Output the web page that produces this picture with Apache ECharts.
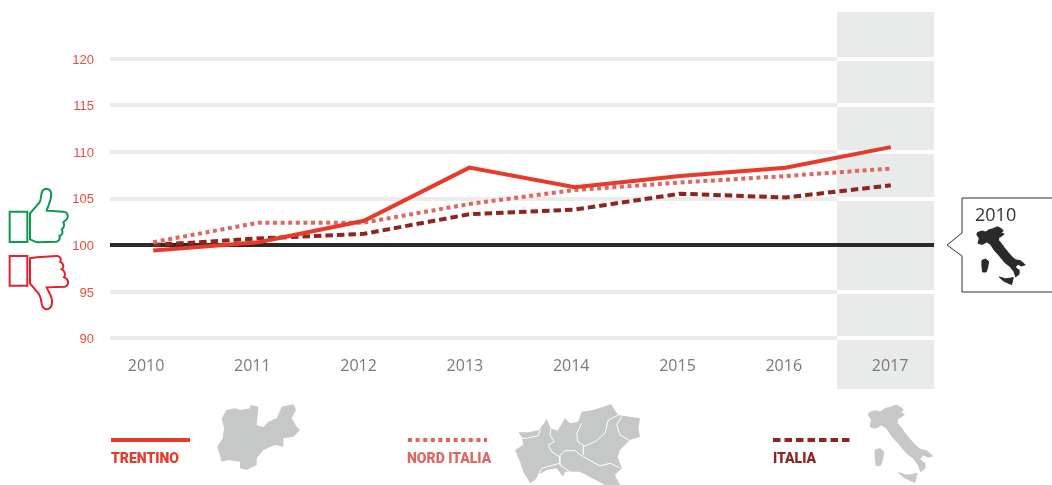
<!DOCTYPE html>
<html><head><meta charset="utf-8">
<style>html,body{margin:0;padding:0;background:#fff}#c{width:1052px;height:485px}</style>
<script src="https://cdn.jsdelivr.net/npm/echarts@6/dist/echarts.min.js"></script>
</head><body><div id="c"></div>
<script>
const years = [2010,2011,2012,2013,2014,2015,2016,2017];
const trentino = [99.4,100.3,102.6,108.3,106.2,107.4,108.3,110.5];
const nordItalia = [100.3,102.4,102.4,104.4,105.9,106.7,107.4,108.2];
const italia = [100.0,100.7,101.2,103.3,103.8,105.5,105.1,106.4];
const yTicks = [90,95,100,105,110,115,120];

const RED='#e8392a', PINK='#e2665f', DARK='#8f2420', GRID='#ebebeb', BAND='#e9ebea', MAP='#c6c8c7', INK='#2b2a29';
const xMin=2009.59, xMax=2017.41, yMin=84.55, yMax=125, bandStart=2016.49;
const DOT=[4,3.6], DASH=[7.5,4];
const pairs = a => a.map((v,i)=>[years[i],v]);
const hline = (v,from,to)=>[{coord:[from,v]},{coord:[to,v]}];

// map outlines (decorative pictograms), local coordinates
const italyMain=[[28,38],[45,32],[60,36],[75,26],[90,22],[108,15],[122,22],[130,30],[122,38],[133,44],[125,50],[112,58],[112,70],[125,85],[135,100],[150,118],[165,135],[180,148],[200,152],[218,168],[205,172],[190,165],[178,178],[195,190],[195,205],[182,215],[175,195],[160,175],[140,160],[115,130],[95,108],[80,85],[65,75],[45,85],[30,80],[35,60],[25,45]];
const italySard=[[45,150],[60,145],[72,155],[68,180],[62,197],[48,197],[45,175]];
const italySic=[[115,217],[140,225],[172,220],[165,248],[150,242],[130,232]];
const trentinoMap=[[365,70],[380,45],[405,40],[420,45],[450,40],[452,30],[475,35],[470,90],[490,97],[505,80],[530,70],[545,35],[580,28],[588,45],[575,70],[590,95],[600,105],[580,125],[550,130],[550,155],[525,150],[490,165],[470,190],[470,210],[440,225],[420,220],[420,200],[385,195],[365,200],[352,155],[368,130],[372,100]];
const nordMap=[[518.3,432.3],[528.3,432.3],[539.3,430],[546.7,419],[550.7,428.3],[557.7,430.7],[565,418.3],[570,423.3],[578,421.7],[581.7,411.7],[593.3,410],[611,404.3],[614.3,409.3],[618.3,415],[640,418.3],[638.3,428.3],[640,436.7],[630,440],[620,450],[617.7,456.7],[621.7,468.3],[615,475],[620,485],[605,485],[591.7,478],[580,471.7],[565,471.7],[563,476.7],[556.7,468.3],[546.7,470],[538.3,475],[535,480],[530,483.3],[528.3,480],[523.3,471.7],[520,461.7],[515,450],[523.3,445],[521.7,436.7]];
const nordBorders=[
 [[518.3,438.3],[526.7,438.3],[538.3,435.7],[540,430]],
 [[550.7,428.3],[550,435],[554.3,441.7],[548.3,445],[551.7,451.7],[559.3,456.7],[560,465]],
 [[560,465],[560,455],[565,450.7],[575,450.7],[583.3,456.7],[600,466],[610,463.3],[620,467.7]],
 [[581.7,423.3],[576.7,433.3],[577.7,441.7],[583.3,445],[583.3,455]],
 [[583.3,446.7],[595,441.7],[605,433.3],[608.3,420],[618.3,415]],
 [[621.7,416.7],[616.7,425],[620,435],[630,440.7]],
 [[559.3,463.3],[541.7,468.3],[538.3,475]],
 [[560,465],[570,471.7],[575,475]]];
// thumb outlines: start point, then straight [x,y] or cubic [x1,y1,x2,y2,x,y] segments
const thumbUpSegs=[[90,130],[118,98],[125,85,122,70,128,62],[135,53,150,55,153,68],[156,85,145,105,140,122],[190,125],[203,126,208,140,198,150],[192,154,192,155,190,157],[195,165,190,175,185,178],[190,185,187,196,178,198],[182,207,175,215,168,215],[110,217],[90,208]];
const thumbDownSegs=[[90,265],[110,262],[170,258],[180,258,186,268,180,275],[192,280,192,293,185,298],[195,302,197,315,192,322],[205,325,210,345,195,350],[140,352],[148,370,160,385,155,405],[150,420,135,422,128,410],[122,395,125,385,115,370],[90,340]];
const flatten=segs=>{const out=[];let p=null;segs.forEach(s=>{
  if(s.length===2){out.push(s);p=s;return;}
  for(let i=1;i<=10;i++){const t=i/10,u=1-t;
    out.push([u*u*u*p[0]+3*u*u*t*s[0]+3*u*t*t*s[2]+t*t*t*s[4],u*u*u*p[1]+3*u*u*t*s[1]+3*u*t*t*s[3]+t*t*t*s[5]]);}
  p=[s[4],s[5]];});return out;};

const place=(pts,ox,oy,s)=>pts.map(p=>[ox+p[0]*s,oy+p[1]*s]);
const poly=(pts,fill,sw)=>({type:'polygon',shape:{points:pts},style:{fill,stroke:sw?fill:null,lineWidth:sw||0},silent:true});
const stroke=(pts,color,w)=>({type:'polyline',shape:{points:pts},style:{stroke:color,lineWidth:w,fill:null},silent:true});
const closed=(pts,color)=>({type:'polygon',shape:{points:pts},style:{stroke:color,lineWidth:2,fill:null},silent:true});
const txt=(x,y,t,color,font)=>({type:'text',x,y,style:{text:t,fill:color,font,textVerticalAlign:'middle'},silent:true});
const legLine=(x1,x2,color,dash)=>({type:'line',shape:{x1,y1:440,x2,y2:440},style:{stroke:color,lineWidth:4,lineDash:dash},silent:true});

const cs=0.247, cx=977-25*cs, cy=227-15*cs;
const graphics=[
 closed(place([[29,125],[82,125],[82,216],[29,216]],0,170,1/3),'#0a9a4a'),
 closed(place(flatten(thumbUpSegs),0,170,1/3),'#0a9a4a'),
 closed(place([[29,258],[82,258],[82,347],[29,347]],0,170,1/3),'#e3202c'),
 closed(place(flatten(thumbDownSegs),0,170,1/3),'#e3202c'),
 stroke([[1052,198],[962,198],[962,233],[947,245],[962,256],[962,292],[1052,292]],'#333',1),
 txt(975,215.5,'2010','#333','400 18px "Open Sans"'),
 poly(place(italyMain,cx,cy,cs),INK,1.2),
 poly(place(italySard,cx,cy,cs),INK,1),
 poly(place(italySic,cx,cy,cs),INK,1),
 legLine(111,190,RED,null),
 legLine(408,487,PINK,DOT),
 legLine(773,850,DARK,DASH),
 txt(111,459.5,'TRENTINO',RED,'900 14px Roboto'),
 txt(407,459.5,'NORD ITALIA',PINK,'900 14px Roboto'),
 txt(773,459.5,'ITALIA',DARK,'900 14px Roboto'),
 poly(place(trentinoMap,100,395,1/3),MAP),
 poly(nordMap,MAP),
 ...nordBorders.map(b=>stroke(b,'#fff',1)),
 poly(place(italyMain,860,400,1/3),MAP,1),
 poly(place(italySard,860,400,1/3),MAP,0.6),
 poly(place(italySic,860,400,1/3),MAP,0.6)
];

const bg=(z,extra)=>Object.assign({type:'line',data:[],z,silent:true,symbol:'none',xAxisIndex:0,yAxisIndex:0},extra);
const lineSeries=(name,data,color,type)=>({name,type:'line',xAxisIndex:0,yAxisIndex:0,data:pairs(data),symbol:'none',z:10,silent:true,
  lineStyle:{color,width:4,type,cap:'butt',join:'miter'}});

const chart=echarts.init(document.getElementById('c'),null,{renderer:'canvas'});
chart.setOption({
 animation:false,
 backgroundColor:'#fff',
 grid:[
  {left:110,right:118,top:12,bottom:96},
  {left:92.9,right:108.8,top:12,bottom:96}
 ],
 xAxis:[
  {type:'value',gridIndex:0,min:xMin,max:xMax,show:false},
  {type:'category',gridIndex:1,z:20,data:years.map(String),boundaryGap:true,axisLine:{show:false},axisTick:{show:false},
   axisLabel:{color:'#7a7a7a',fontFamily:'"Open Sans"',fontWeight:400,fontSize:16,margin:-31,interval:0}}
 ],
 yAxis:[
  {type:'value',gridIndex:0,min:yMin,max:yMax,axisLine:{show:false},axisTick:{show:false},splitLine:{show:false},
   axisLabel:{customValues:yTicks,margin:16,formatter:'{a|{value}}',
     rich:{a:{color:'#ee4b3d',fontFamily:'"Liberation Sans"',fontSize:13,padding:[3,0,0,0]}}}},
  {type:'value',gridIndex:1,min:0,max:1,show:false}
 ],
 series:[
  bg(1,{markLine:{silent:true,symbol:'none',label:{show:false},lineStyle:{color:GRID,width:4,type:'solid'},
    data:yTicks.filter(v=>v!==100).map(v=>hline(v,xMin,xMax))}}),
  bg(2,{markArea:{silent:true,itemStyle:{color:BAND},label:{show:false},
    data:[[{coord:[bandStart,yMin]},{coord:[xMax,yMax]}]]}}),
  bg(3,{markLine:{silent:true,symbol:'none',label:{show:false},lineStyle:{color:'#fff',width:4,type:'solid'},
    data:yTicks.filter(v=>v!==100).map(v=>hline(v,bandStart,xMax))}}),
  bg(4,{markLine:{silent:true,symbol:'none',label:{show:false},lineStyle:{color:INK,width:4,type:'solid'},
    data:[hline(100,xMin,xMax)]}}),
  lineSeries('ITALIA',italia,DARK,DASH),
  lineSeries('NORD ITALIA',nordItalia,PINK,DOT),
  lineSeries('TRENTINO',trentino,RED,'solid')
 ],
 graphic:graphics
});
</script></body></html>
